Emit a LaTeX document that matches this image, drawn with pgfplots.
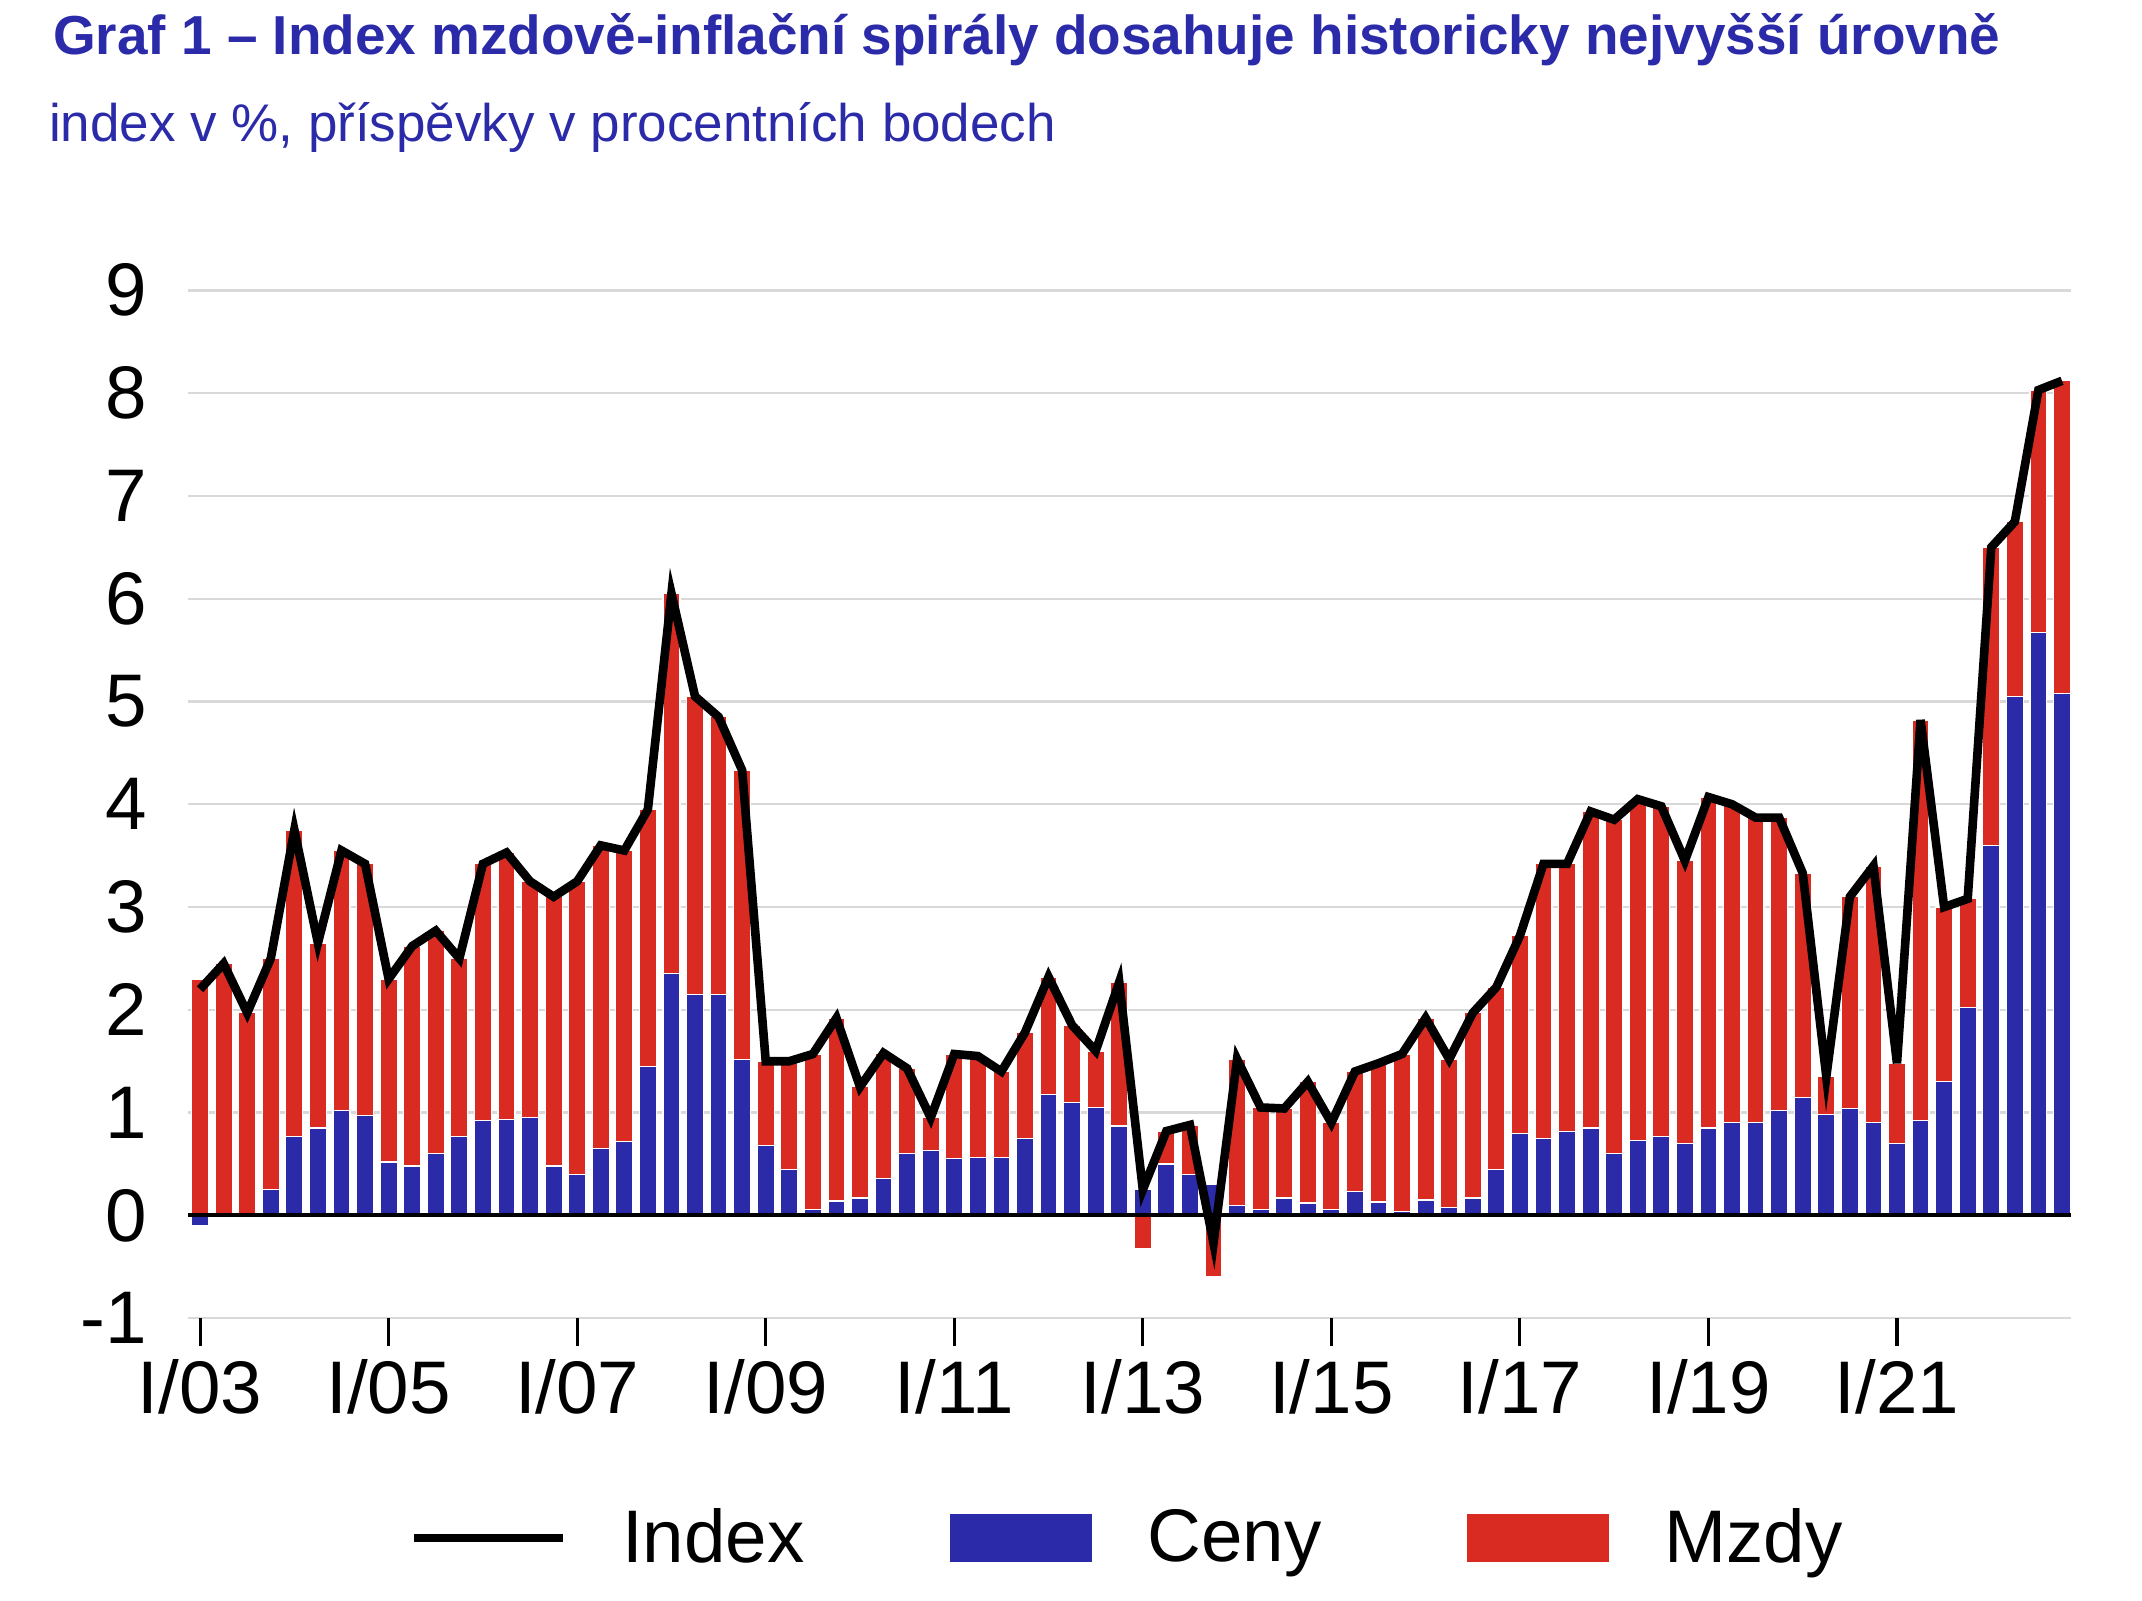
\documentclass[border=0pt]{standalone}
\usepackage{pgfplots}
\pgfplotsset{compat=1.18}
\usepackage{pgfplotstable}
\usepackage{fontspec}
\setmainfont{Liberation Sans}
\definecolor{cblue}{HTML}{2B2BAA}
\definecolor{cred}{HTML}{D92B22}
\definecolor{ctitle}{HTML}{2B2BAA}
\pgfplotstableread{
i idx ceny mz
0 2.2 -0.1 2.3
1 2.45 0 2.45
2 1.97 0 1.97
3 2.5 0.25 2.5
4 3.75 0.77 3.75
5 2.65 0.85 2.65
6 3.55 1.02 3.55
7 3.42 0.97 3.42
8 2.3 0.52 2.3
9 2.62 0.48 2.62
10 2.77 0.6 2.77
11 2.5 0.77 2.5
12 3.42 0.92 3.42
13 3.53 0.93 3.53
14 3.25 0.95 3.25
15 3.1 0.48 3.1
16 3.25 0.4 3.25
17 3.6 0.65 3.6
18 3.55 0.72 3.55
19 3.95 1.45 3.95
20 6.05 2.35 6.05
21 5.05 2.15 5.05
22 4.85 2.15 4.85
23 4.33 1.52 4.33
24 1.5 0.68 1.5
25 1.5 0.45 1.5
26 1.57 0.06 1.57
27 1.92 0.14 1.92
28 1.25 0.17 1.25
29 1.58 0.36 1.58
30 1.43 0.6 1.43
31 0.95 0.63 0.95
32 1.57 0.55 1.57
33 1.55 0.56 1.55
34 1.4 0.56 1.4
35 1.78 0.75 1.78
36 2.32 1.18 2.32
37 1.85 1.1 1.85
38 1.6 1.05 1.6
39 2.27 0.87 2.27
40 0.25 0.25 -0.32
41 0.82 0.5 0.82
42 0.88 0.4 0.88
43 -0.27 0.3 -0.6
44 1.52 0.1 1.52
45 1.05 0.06 1.05
46 1.04 0.17 1.04
47 1.3 0.12 1.3
48 0.9 0.06 0.9
49 1.4 0.23 1.4
50 1.48 0.13 1.48
51 1.57 0.04 1.57
52 1.92 0.15 1.92
53 1.52 0.08 1.52
54 1.97 0.17 1.97
55 2.22 0.45 2.22
56 2.72 0.8 2.72
57 3.42 0.75 3.42
58 3.42 0.82 3.42
59 3.93 0.85 3.93
60 3.85 0.6 3.85
61 4.05 0.73 4.05
62 3.98 0.77 3.98
63 3.45 0.7 3.45
64 4.07 0.85 4.07
65 4.0 0.9 4.0
66 3.87 0.9 3.87
67 3.87 1.02 3.87
68 3.33 1.15 3.33
69 1.35 0.98 1.35
70 3.1 1.04 3.1
71 3.4 0.9 3.4
72 1.48 0.7 1.48
73 4.82 0.92 4.82
74 3.0 1.3 3.0
75 3.08 2.02 3.08
76 6.5 3.6 6.5
77 6.75 5.05 6.75
78 8.03 5.67 8.03
79 8.12 5.08 8.12
}\data
\begin{document}
\begin{tikzpicture}
\path[use as bounding box] (-48pt,-72pt) rectangle (498pt,336pt);
\node[anchor=base west,text=ctitle,font=\bfseries\fontsize{14}{16}\selectfont] at (-38pt,322pt) {Graf 1 – Index mzdově-inflační spirály dosahuje historicky nejvyšší úrovně};
\node[anchor=base west,text=ctitle,font=\fontsize{13.5}{16}\selectfont] at (-39pt,300pt) {index v \%, příspěvky v procentních bodech};
\begin{axis}[at={(0,0)},anchor=south west,scale only axis,width=480pt,height=262pt,
 xmin=-0.5,xmax=79.4,ymin=-1,ymax=9,
 axis x line*=bottom, axis y line*=left,
 axis line style={draw=none},
 ytick={-1,0,...,9},
 ytick style={draw=none},
 xtick style={black,line width=0.8pt},
 tick align=outside, major tick length=7pt,
 ymajorgrids, grid style={gray!30,line width=0.6pt},
 xtick={0,8,...,72},
 xticklabels={I/03,I/05,I/07,I/09,I/11,I/13,I/15,I/17,I/19,I/21},
 tick label style={font=\fontsize{19}{22}\selectfont},
 /pgf/number format/assume math mode=true,
 clip=false,
 legend style={at={(0.5,-0.214)},anchor=center,draw=none,legend columns=3,font=\fontsize{19}{22}\selectfont,
   /tikz/every even column/.append style={column sep=35pt}},
]
\addplot[ybar,bar width=0.72,bar shift=0,fill=cred,draw=white,line width=0.3pt,forget plot] table[x=i,y=mz]{\data};
\addplot[ybar,bar width=0.72,bar shift=0,fill=cblue,draw=white,line width=0.3pt,forget plot] table[x=i,y=ceny]{\data};
\draw[black,line width=1pt] (axis cs:-0.5,0) -- (axis cs:79.4,0);
\addplot[black,line width=2.2pt,no marks,legend image code/.code={\draw[black,line width=2.2pt] (0pt,0pt) -- (38pt,0pt);}] table[x=i,y=idx]{\data};
\addlegendentry{\hspace{12pt}Index}
\addlegendimage{legend image code/.code={\fill[cblue] (0pt,-6pt) rectangle (36pt,6pt);}}
\addlegendentry{\hspace{12pt}Ceny}
\addlegendimage{legend image code/.code={\fill[cred] (0pt,-6pt) rectangle (36pt,6pt);}}
\addlegendentry{\hspace{12pt}Mzdy}
\end{axis}
\end{tikzpicture}
\end{document}
